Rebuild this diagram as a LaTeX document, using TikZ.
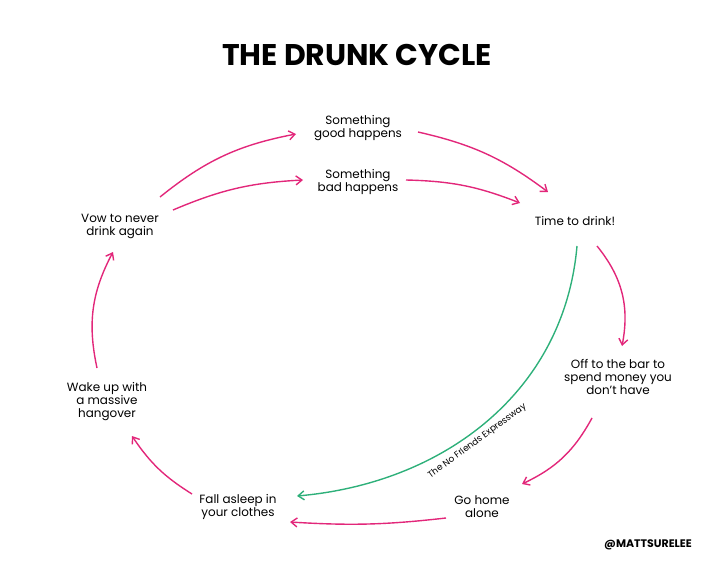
\documentclass[tikz,border=0pt]{standalone}
\usepackage{fontspec}
\setmainfont{Poppins}
\usetikzlibrary{arrows.meta}
\definecolor{pk}{HTML}{E2277A}
\definecolor{gr}{HTML}{2EB07A}
\begin{document}
\begin{tikzpicture}[x=1bp,y=-1bp,
  lbl/.style={align=center,font=\fontsize{12}{13}\selectfont},
  pa/.style={draw=pk,line width=1.4pt,-{Straight Barb[length=6pt,width=9pt]}},
  ga/.style={draw=gr,line width=1.4pt,-{Straight Barb[length=6pt,width=9pt]}}]
\useasboundingbox (0,0) rectangle (720,576);
\node[font=\fontsize{30}{32}\selectfont\bfseries] (t) at (357,55) {THE DRUNK CYCLE};
\node[lbl] (good) at (358,128) {Something\\good happens};
\node[lbl] (bad) at (358,182) {Something\\bad happens};
\node[lbl] (time) at (575,221) {Time to drink!};
\node[lbl] (vow) at (120,226) {Vow to never\\drink again};
\node[lbl] (bar) at (618,377) {Off to the bar to\\spend money you\\don’t have};
\node[lbl] (wake) at (107,402) {Wake up with\\a massive\\hangover};
\node[lbl] (home) at (482,507) {Go home\\alone};
\node[lbl] (fall) at (238,507) {Fall asleep in\\your clothes};
\node[font=\fontsize{11}{12}\selectfont\bfseries] (tag) at (648,545) {@MATTSURELEE};
\coordinate (v1) at (160,197); \coordinate (v1e) at (296,134);
\coordinate (v2) at (173,210); \coordinate (v2e) at (303,180);
\coordinate (g1) at (418,132); \coordinate (g1e) at (548,192);
\coordinate (b1) at (406,180); \coordinate (b1e) at (520,203);
\coordinate (t1) at (597,246); \coordinate (t1e) at (622,346);
\coordinate (o1) at (592,418); \coordinate (o1e) at (522,484);
\coordinate (h1) at (446,518); \coordinate (h1e) at (290,522);
\coordinate (f1) at (192,494); \coordinate (f1e) at (132,436);
\coordinate (w1) at (97,368); \coordinate (w1e) at (113,252);
\coordinate (gs) at (577,246); \coordinate (ge) at (297,496);
\draw[pa] (v1) to[bend left=14] (v1e);
\draw[pa] (v2) to[bend left=10] (v2e);
\draw[pa] (g1) to[bend left=12] (g1e);
\draw[pa] (b1) to[bend left=10] (b1e);
\draw[pa] (t1) to[bend left=25] (t1e);
\draw[pa] (o1) to[bend left=18] (o1e);
\draw[pa] (h1) to[bend left=5] (h1e);
\draw[pa] (f1) to[bend right=-12] (f1e);
\draw[pa] (w1) to[bend left=20] (w1e);
\draw[ga] (gs) to[out=-95,in=5]
  node[pos=0.55,sloped,below=1pt,font=\fontsize{9}{10}\selectfont,text=black] {The No Friends Expressway}
  (ge);
\end{tikzpicture}
\end{document}
